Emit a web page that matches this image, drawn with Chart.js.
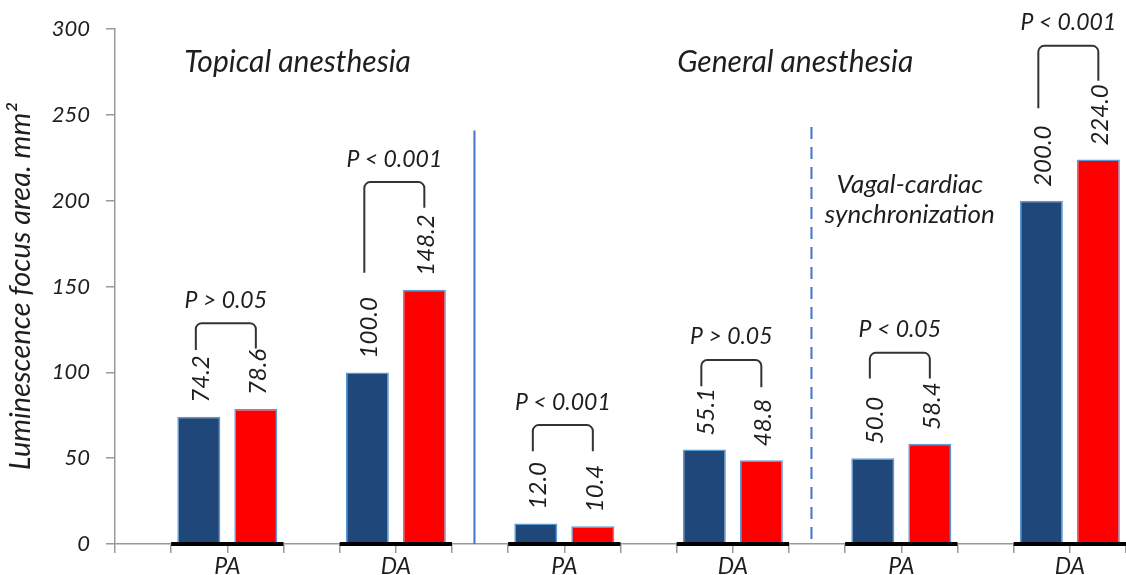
<!DOCTYPE html>
<html>
<head>
<meta charset="utf-8">
<script src="https://cdn.jsdelivr.net/npm/chart.js@4.4.1/dist/chart.umd.min.js"></script>
<style>
  html, body { margin: 0; padding: 0; background: #fff; }
  #wrap { width: 1126px; height: 575px; position: relative; }
</style>
</head>
<body>
<div id="wrap"><canvas id="lumChart"></canvas></div>
<script>
// categories and their positions on the x axis (3 slots apart)
const categories = ['PA', 'DA', 'PA', 'DA', 'PA', 'DA'];
const groupX = [2, 5, 8, 11, 14, 17];

// bar values
const blueValues = [74.2, 100.0, 12.0, 55.1, 50.0, 200.0];
const redValues = [78.6, 148.2, 10.4, 48.8, 58.4, 224.0];

// significance brackets (y values)
const pLabels = ['P > 0.05', 'P < 0.001', 'P < 0.001', 'P > 0.05', 'P < 0.05', 'P < 0.001'];
const bracketTop = [128.7, 210.9, 69.3, 107.2, 111.4, 290.3];
const bracketLegLeft = [113, 158, 54, 92, 96.5, 254];
const bracketLegRight = [114, 196, 54, 91.3, 96.5, 270];

const yTicks = [0, 50, 100, 150, 200, 250, 300];

const FONT = 'Lato';
const TEXT = '#1e1e1e';

// black strip under every group on the axis
const baseSegments = [];
groupX.forEach(x => {
    baseSegments.push({ x: x - 1, y: 0 }, { x: x + 1, y: 0 }, { x: x + 1.5, y: null });
});

const annotationsPlugin = {
    id: 'annotations',
    afterDatasetsDraw(chart) {
        const ctx = chart.ctx;
        const xs = chart.scales.x;
        const ys = chart.scales.y;
        const blueMeta = chart.getDatasetMeta(0);
        const redMeta = chart.getDatasetMeta(1);

        ctx.save();

        // section separators
        ctx.strokeStyle = '#4472C4';
        ctx.lineWidth = 2;
        ctx.beginPath();
        ctx.moveTo(xs.getPixelForValue(6.4), ys.getPixelForValue(241));
        ctx.lineTo(xs.getPixelForValue(6.4), ys.getPixelForValue(0));
        ctx.stroke();
        ctx.setLineDash([12, 8]);
        ctx.beginPath();
        ctx.moveTo(xs.getPixelForValue(12.4), ys.getPixelForValue(243));
        ctx.lineTo(xs.getPixelForValue(12.4), ys.getPixelForValue(0));
        ctx.stroke();
        ctx.setLineDash([]);

        // section titles
        ctx.fillStyle = TEXT;
        ctx.textAlign = 'center';
        ctx.textBaseline = 'alphabetic';
        ctx.font = 'italic 30px ' + FONT;
        ctx.fillText('Topical anesthesia', xs.getPixelForValue(3.25), ys.getPixelForValue(275));
        ctx.fillText('General anesthesia', xs.getPixelForValue(12.11), ys.getPixelForValue(275));
        ctx.font = 'italic 26px ' + FONT;
        ctx.fillText('Vagal-cardiac', xs.getPixelForValue(14.15), ys.getPixelForValue(204.5));
        ctx.fillText('synchronization', xs.getPixelForValue(14.15), ys.getPixelForValue(187));

        // value labels, rotated
        ctx.font = 'italic 24px ' + FONT;
        [blueMeta, redMeta].forEach((meta, d) => {
            const vals = d === 0 ? blueValues : redValues;
            meta.data.forEach((bar, i) => {
                ctx.save();
                ctx.translate(bar.x + 2, bar.y - 14);
                ctx.rotate(-Math.PI / 2);
                ctx.textAlign = 'left';
                ctx.textBaseline = 'middle';
                ctx.fillText(vals[i].toFixed(1), 0, 0);
                ctx.restore();
            });
        });

        // brackets with p values
        ctx.strokeStyle = '#333';
        ctx.lineWidth = 2;
        const r = 6;
        groupX.forEach((gx, i) => {
            const xl = blueMeta.data[i].x - 3;
            const xr = redMeta.data[i].x;
            const yt = ys.getPixelForValue(bracketTop[i]);
            ctx.beginPath();
            ctx.moveTo(xl, ys.getPixelForValue(bracketLegLeft[i]));
            ctx.arcTo(xl, yt, xr, yt, r);
            ctx.arcTo(xr, yt, xr, ys.getPixelForValue(bracketLegRight[i]), r);
            ctx.lineTo(xr, ys.getPixelForValue(bracketLegRight[i]));
            ctx.stroke();

            ctx.font = 'italic 23px ' + FONT;
            ctx.textAlign = 'center';
            ctx.textBaseline = 'middle';
            ctx.fillText(pLabels[i], (xl + xr) / 2, yt - 23);
        });

        ctx.restore();
    }
};

new Chart(document.getElementById('lumChart'), {
    type: 'bar',
    data: {
        datasets: [
            {
                label: 'Blue',
                data: groupX.map((x, i) => ({ x: x, y: blueValues[i] })),
                backgroundColor: '#1F477A',
                borderColor: '#5B9BD5',
                borderWidth: 1.5,
                categoryPercentage: 2.03,
                barPercentage: 0.755
            },
            {
                label: 'Red',
                data: groupX.map((x, i) => ({ x: x, y: redValues[i] })),
                backgroundColor: '#FF0000',
                borderColor: '#5B9BD5',
                borderWidth: 1.5,
                categoryPercentage: 2.03,
                barPercentage: 0.755
            },
            {
                type: 'line',
                label: 'Base',
                data: baseSegments,
                borderColor: '#000',
                borderWidth: 4,
                pointRadius: 0,
                spanGaps: false,
                clip: 6,
                order: -1
            }
        ]
    },
    options: {
        responsive: true,
        maintainAspectRatio: false,
        animation: false,
        layout: {
            padding: { top: 29, right: 0, bottom: 0, left: 0 }
        },
        plugins: {
            legend: { display: false },
            tooltip: { enabled: false }
        },
        scales: {
            x: {
                type: 'linear',
                offset: false,
                min: 0,
                max: 18,
                afterFit: s => { s.height = 31; },
                afterBuildTicks: s => {
                    s.ticks = Array.from({ length: 19 }, (_, i) => ({ value: i }));
                },
                ticks: {
                    autoSkip: false,
                    maxRotation: 0,
                    padding: 0,
                    color: TEXT,
                    font: { family: FONT, style: 'italic', size: 23 },
                    callback: v => {
                        const i = groupX.indexOf(v);
                        return i >= 0 ? categories[i] : '';
                    }
                },
                grid: {
                    offset: false,
                    drawOnChartArea: false,
                    drawTicks: true,
                    tickLength: 9,
                    color: '#999',
                    lineWidth: 1.5
                },
                border: { display: true, color: '#999', width: 1.5 }
            },
            y: {
                min: 0,
                max: 300,
                afterFit: s => { s.width = 115; },
                afterBuildTicks: s => {
                    s.ticks = yTicks.map(v => ({ value: v }));
                },
                ticks: {
                    padding: 16,
                    color: TEXT,
                    font: { family: FONT, style: 'italic', size: 22 }
                },
                grid: {
                    drawOnChartArea: false,
                    drawTicks: true,
                    tickLength: 9,
                    color: '#999',
                    lineWidth: 1.5
                },
                border: { display: true, color: '#999', width: 1.5 },
                title: {
                    display: true,
                    text: 'Luminescence focus area. mm²',
                    color: TEXT,
                    font: { family: FONT, style: 'italic', size: 29 },
                    padding: { top: 3, bottom: 0 }
                }
            }
        }
    },
    plugins: [annotationsPlugin]
});
</script>
</body>
</html>
